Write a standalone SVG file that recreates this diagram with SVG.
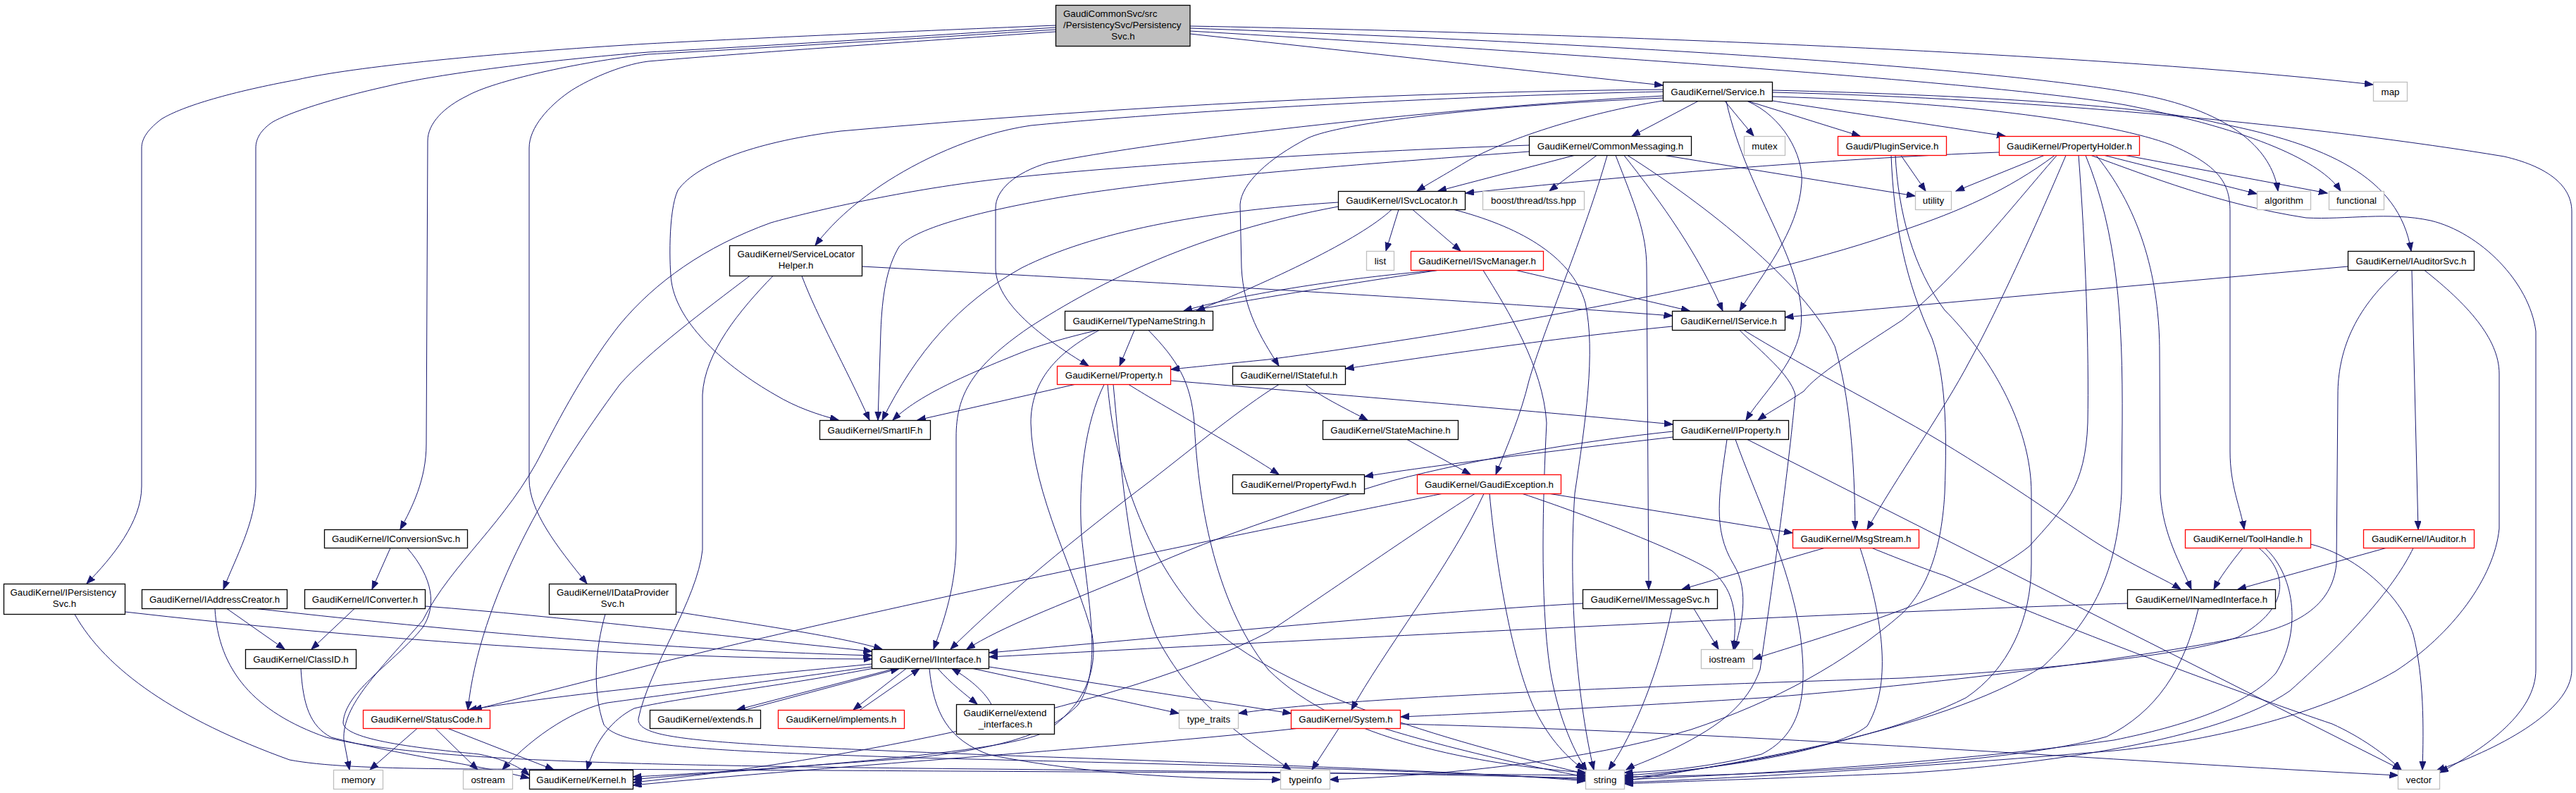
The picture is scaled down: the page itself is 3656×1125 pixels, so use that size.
<svg xmlns="http://www.w3.org/2000/svg" width="3656" height="1125" viewBox="0 0 3656 1125">
<style>
.e{fill:none;stroke:#191970;stroke-width:1;marker-end:url(#a)}
rect{fill:#fff;stroke:#000;stroke-width:1.3}
rect.g{stroke:#bfbfbf}
rect.r{stroke:#ff0000}
rect.root{fill:#bfbfbf}
text{font-family:"Liberation Sans",Arial,sans-serif;font-size:13.33px;fill:#000;text-anchor:middle}
text.l{text-anchor:start}
</style>
<defs>
<marker id="a" markerUnits="userSpaceOnUse" markerWidth="14" markerHeight="10" refX="12" refY="4.5" orient="auto"><path d="M0,0 L12,4.5 L0,9 z" fill="#191970" stroke="#191970" stroke-width="1"/></marker>
</defs>
<rect x="0" y="0" width="3656" height="1125" style="fill:#fff;stroke:none"/>
<g id="edges">
<path class="e" d="M1689,37 C2300,48 3000,78 3368,120"/>
<path class="e" d="M1689,48 L2360,121"/>
<path class="e" d="M1689,40 C2300,62 2900,100 3066,140 C3180,168 3226,220 3233,271"/>
<path class="e" d="M1689,44 C2300,80 2850,120 3017,149 C3200,185 3295,230 3322,271"/>
<path class="e" d="M1498,36 C1250,46 1050,55 920,62 C700,75 500,95 422,113 C330,130 260,150 229,169 C212,182 201,195 201,210 L201,690 C201,740 160,790 123,828"/>
<path class="e" d="M1498,39 C1250,55 1050,67 920,74 C780,85 620,105 551,122 C470,140 410,160 387,173 C372,183 363,195 363,210 L363,690 C363,740 335,790 317,836"/>
<path class="e" d="M1498,42 C1250,58 1050,70 920,77 C820,88 700,115 663,136 C630,152 607,175 607,200 L605,630 C605,680 585,720 568,751"/>
<path class="e" d="M1498,45 C1250,62 1050,76 920,87 C880,92 830,115 807,131 C780,150 751,180 751,210 L751,680 C751,725 790,775 833,828"/>
<path class="e" d="M2410,143.5 L2316,193"/>
<path class="e" d="M2360,143 C2250,160 2130,200 2080,230 C2050,248 2025,262 2011,271"/>
<path class="e" d="M2448,143.5 L2489,193"/>
<path class="e" d="M2481,143.5 L2640,193"/>
<path class="e" d="M2450,143.5 C2480,280 2570,380 2555,470 C2545,520 2500,560 2478,596"/>
<path class="e" d="M2480,143.5 C2530,165 2560,220 2557,260 C2552,330 2500,390 2469,441"/>
<path class="e" d="M2515.5,143 L2846,193"/>
<path class="e" d="M2515.5,131 C2900,140 3300,180 3554,222 C3610,235 3650,260 3650,300 L3650,950 C3650,1010 3540,1065 3458,1093"/>
<path class="e" d="M2515.5,128 C2800,135 3050,150 3150,175 C3300,205 3405,250 3422,356"/>
<path class="e" d="M2515.5,137 C2800,145 3000,175 3080,205 C3150,235 3165,260 3165,300 L3165,640 C3165,690 3180,720 3185,751"/>
<path class="e" d="M2360.5,130 C2100,135 1700,155 1463,178 C1380,190 1300,230 1252,262 C1210,290 1180,318 1157,348"/>
<path class="e" d="M2360.5,127 C2000,130 1600,150 1193,186 C1080,200 990,230 962,270 C948,300 950,380 953,400 C962,460 1030,520 1100,560 C1130,578 1160,588 1190,596"/>
<path class="e" d="M2360.5,136 C2100,150 1700,190 1487,231 C1440,245 1413,270 1413,295 L1413,380 C1413,430 1480,480 1545,519"/>
<path class="e" d="M2360.5,139 C2100,150 1900,175 1856,196 C1800,225 1762,260 1760,290 L1762,380 C1765,440 1790,480 1815,519"/>
<path class="e" d="M2234,220.5 L2041,271"/>
<path class="e" d="M2266,220.5 L2199,271"/>
<path class="e" d="M2281,220.5 C2250,330 2190,470 2170,540 C2158,590 2140,630 2123,673"/>
<path class="e" d="M2293,220.5 C2320,290 2337,330 2337,380 L2340,836"/>
<path class="e" d="M2305,220.5 C2360,290 2410,360 2445,441"/>
<path class="e" d="M2310,220.5 C2420,290 2560,400 2604,491 C2625,560 2632,650 2633,751"/>
<path class="e" d="M2363,220.5 L2718,278"/>
<path class="e" d="M2170.5,215 C1900,235 1650,255 1504,280 C1400,298 1300,322 1276,350 C1258,380 1252,420 1250,470 L1246,596"/>
<path class="e" d="M2170.5,206 C1900,215 1600,235 1446,251 C1300,265 1150,300 1094,316 C1000,350 930,400 880,460 C840,510 800,580 770,640 C720,740 640,800 600,880 C540,950 485,1000 488,1050 L496,1092"/>
<path class="e" d="M2698,220.5 L2733,271"/>
<path class="e" d="M2690,220.5 C2694,300 2715,380 2760,440 C2820,500 2883,600 2883,700 L2883,800 C2883,880 2850,950 2790,990 C2650,1060 2400,1095 2305.5,1104"/>
<path class="e" d="M2684,220.5 C2688,320 2705,400 2742,480 C2760,530 2764,600 2760,700 C2755,790 2730,840 2700,870 C2620,940 2520,995 2400,1035 C2250,1080 2050,1100 1887.5,1106"/>
<path class="e" d="M2837.5,216 C2600,225 2300,250 2080,274"/>
<path class="e" d="M2901,220.5 L2776,271"/>
<path class="e" d="M2916,220.5 C2850,270 2780,300 2700,327 C2500,400 2100,470 1800,510 C1740,516 1700,520 1662,524"/>
<path class="e" d="M2919,220.5 C2850,300 2780,390 2700,454 C2630,500 2580,530 2560,555 C2530,575 2510,585 2495,596"/>
<path class="e" d="M2932,220.5 C2890,320 2830,450 2795,513 C2760,580 2690,680 2650,751"/>
<path class="e" d="M2950,220.5 C2960,350 2965,500 2963,600 C2960,690 2930,720 2880,775 C2800,840 2600,900 2488,935"/>
<path class="e" d="M2960,220.5 C3005,330 3013,450 3012,600 L3011,700 C3005,800 2980,870 2900,945 C2750,1040 2450,1085 2305.5,1108"/>
<path class="e" d="M2975,220.5 C3040,300 3065,400 3065,500 L3066,700 C3070,760 3095,800 3110,836"/>
<path class="e" d="M2968,220.5 C3050,250 3150,290 3273,309 C3330,312 3390,300 3450,313 C3520,330 3590,400 3599,470 L3599,950 C3599,1010 3530,1060 3463,1096"/>
<path class="e" d="M2987,220.5 L3203,275"/>
<path class="e" d="M3017,220.5 L3303,274"/>
<path class="e" d="M3332.5,378 L2533.5,450"/>
<path class="e" d="M3404,383.5 C3340,440 3318,500 3318,560 L3316,800 C3310,860 3260,890 3176,905 C3000,940 2700,975 2500,990 C2300,1003 2100,1012 1988,1017"/>
<path class="e" d="M3423,383.5 L3432,751"/>
<path class="e" d="M3441,383.5 C3500,430 3547,480 3547,530 L3547,750 C3540,820 3480,900 3400,952 C3300,1010 3150,1050 3000,1065 C2700,1090 2450,1105 2305.5,1110"/>
<path class="e" d="M3183,777.5 C3165,800 3150,820 3142,836"/>
<path class="e" d="M3206,777.5 C3245,810 3255,860 3176,904 C3100,930 2900,950 2700,962 C2300,975 1900,990 1758,1012"/>
<path class="e" d="M3215,777.5 C3260,820 3265,900 3230,955 C3190,1000 3100,1030 3000,1050 C2750,1085 2450,1100 2305.5,1106"/>
<path class="e" d="M3279.5,772 C3350,790 3410,850 3425,900 C3440,960 3440,1030 3438,1092"/>
<path class="e" d="M3386,777.5 L3176,836"/>
<path class="e" d="M3425,777.5 C3400,830 3340,900 3250,980 C3150,1050 2900,1085 2700,1097 C2500,1105 2400,1108 2305.5,1112"/>
<path class="e" d="M3019.5,856 C2700,866 2100,895 1404,932"/>
<path class="e" d="M3120,863.5 C3100,950 3060,1010 2990,1045 C2850,1085 2500,1100 2305.5,1102"/>
<path class="e" d="M2374.5,620 C2200,640 2000,665 1937,676"/>
<path class="e" d="M2374.5,612 C2250,625 2100,650 1976,682 C1850,720 1700,770 1604,817 C1500,860 1420,890 1372,921"/>
<path class="e" d="M2451,623.5 C2440,700 2430,750 2460,800 C2485,840 2470,890 2462,921"/>
<path class="e" d="M2463,623.5 C2490,700 2540,800 2555,900 C2565,980 2560,1040 2500,1070 C2420,1090 2350,1095 2305.5,1096"/>
<path class="e" d="M2480,623.5 L3408,1092"/>
<path class="e" d="M1525,545.5 L1302,596"/>
<path class="e" d="M1602,545.5 C1640,570 1750,630 1815,673"/>
<path class="e" d="M1661.5,540 C1900,560 2200,585 2374,602"/>
<path class="e" d="M1567,545.5 C1540,600 1530,680 1535,760 C1545,860 1565,950 1530,1000 C1490,1040 1430,1060 1300,1075 C1100,1090 950,1100 898.5,1102"/>
<path class="e" d="M1580,545.5 C1590,650 1600,800 1640,900 C1690,1000 1770,1050 1832,1092"/>
<path class="e" d="M1572,545.5 C1580,650 1620,780 1700,870 C1800,980 2050,1050 2250.5,1098"/>
<path class="e" d="M1610,468.5 L1589,519"/>
<path class="e" d="M1560,468.5 C1500,500 1463,540 1463,600 C1465,700 1530,820 1550,900 C1560,960 1530,1010 1480,1040 C1400,1075 1000,1095 898.5,1106"/>
<path class="e" d="M1630,468.5 C1670,510 1690,540 1695,600 C1700,700 1720,850 1800,950 C1900,1050 2100,1085 2250.5,1096"/>
<path class="e" d="M1853,545.5 C1870,560 1910,580 1941,596"/>
<path class="e" d="M1815,545.5 C1760,580 1700,630 1633,682 C1530,760 1420,850 1349,921"/>
<path class="e" d="M1997,623.5 L2087,673"/>
<path class="e" d="M2200,700.5 L2544,756"/>
<path class="e" d="M2106,700.5 C2060,800 1960,930 1918,1007"/>
<path class="e" d="M2114,700.5 C2125,820 2150,950 2180,1010 C2200,1050 2225,1075 2248,1092"/>
<path class="e" d="M2161,700.5 C2250,730 2380,780 2430,810 C2465,840 2465,880 2460,921"/>
<path class="e" d="M2046,700.5 C1800,750 1300,850 920,944 C800,975 720,995 672,1007"/>
<path class="e" d="M2093,700.5 C2030,740 1900,830 1800,897 C1600,1000 1200,1080 898.5,1110"/>
<path class="e" d="M2589,777.5 L2387,836"/>
<path class="e" d="M2640,777.5 C2680,900 2680,980 2650,1030 C2600,1070 2400,1095 2305.5,1100"/>
<path class="e" d="M2657,777.5 C2700,795 2740,810 2761,817 C2950,900 3200,990 3310,1027 C3350,1045 3385,1070 3408,1092"/>
<path class="e" d="M2246.5,856 C2000,870 1700,900 1404,926"/>
<path class="e" d="M2404,863.5 L2439,921"/>
<path class="e" d="M2373,863.5 C2355,950 2320,1040 2283,1092"/>
<path class="e" d="M554,777.5 L528,836"/>
<path class="e" d="M578,777.5 C615,820 620,860 600,890 C560,940 490,980 487,1025 C487,1050 600,1062 680,1070 C720,1078 740,1090 751,1100"/>
<path class="e" d="M177.5,868 C500,905 900,935 1237.5,935"/>
<path class="e" d="M106,871.5 C150,950 250,1020 411,1078 C500,1095 700,1090 1000,1092 C1500,1095 2000,1097 2250.5,1100"/>
<path class="e" d="M322,863.5 L404,921"/>
<path class="e" d="M364,863.5 C600,890 900,920 1237.5,930"/>
<path class="e" d="M305,863.5 C310,950 360,1010 463,1046 C600,1080 900,1085 1300,1090 C1700,1094 2000,1097 2250.5,1104"/>
<path class="e" d="M503,863.5 L442,921"/>
<path class="e" d="M603.5,860 C800,875 1000,900 1237.5,924"/>
<path class="e" d="M959.5,868 C1100,890 1200,905 1252,921"/>
<path class="e" d="M859,871.5 C845,920 840,980 857,1028 C880,1060 1000,1065 1300,1075 C1700,1085 2000,1092 2250.5,1106"/>
<path class="e" d="M1223.5,378 C1500,393 2000,420 2373.5,448"/>
<path class="e" d="M1138,391.5 C1160,450 1200,520 1234,596"/>
<path class="e" d="M1064,391.5 C1000,440 920,500 880,545 C780,680 680,850 664,1007"/>
<path class="e" d="M1097,391.5 C1050,440 1000,500 997,560 L997,780 C990,850 920,950 906,1020 C905,1050 1000,1055 1405,1071 C1800,1085 2100,1095 2250.5,1108"/>
<path class="e" d="M1985,297.5 L1967,356"/>
<path class="e" d="M2005,297.5 L2073,356"/>
<path class="e" d="M2064,297.5 C2150,320 2230,360 2250,430 C2265,500 2250,600 2235,700 C2225,850 2240,1000 2262,1092"/>
<path class="e" d="M1975,297.5 C1930,340 1800,400 1698,441"/>
<path class="e" d="M1899.5,287 C1700,300 1550,330 1450,380 C1360,430 1300,500 1252,596"/>
<path class="e" d="M1899.5,293 C1700,330 1560,400 1460,465 C1380,520 1357,560 1357,620 L1357,770 C1357,830 1340,880 1325,921"/>
<path class="e" d="M2040,383.5 C1900,395 1750,420 1680,441"/>
<path class="e" d="M2040,383.5 C1800,420 1550,460 1450,500 C1350,540 1300,565 1267,596"/>
<path class="e" d="M2152,383.5 L2398,441"/>
<path class="e" d="M2105,383.5 C2140,440 2190,520 2195,600 C2190,700 2185,850 2200,950 C2210,1010 2230,1060 2252,1093"/>
<path class="e" d="M2373.5,463 C2200,480 2000,510 1909.5,523"/>
<path class="e" d="M2475,468.5 C2560,520 2620,550 2700,595 C2800,650 2900,720 2960,760 C3020,800 3070,820 3095,836"/>
<path class="e" d="M2469,468.5 C2500,500 2540,530 2548,560 C2540,650 2520,800 2498,950 C2480,1000 2440,1030 2380,1060 C2340,1080 2320,1085 2308,1092"/>
<path class="e" d="M1270,948.5 L1046,1007"/>
<path class="e" d="M1056,1007.5 L1276,948.5"/>
<path class="e" d="M1286,948.5 L1211,1007"/>
<path class="e" d="M1220,1007.5 L1305,948.5"/>
<path class="e" d="M1331,948.5 C1350,970 1370,985 1387,999"/>
<path class="e" d="M1407,999.5 C1400,985 1380,965 1351,948.5"/>
<path class="e" d="M1381,948.5 L1673,1012"/>
<path class="e" d="M1403.5,946 L1832.5,1012"/>
<path class="e" d="M1237.5,942 C1000,965 800,985 665,1007"/>
<path class="e" d="M1237.5,946 C1100,965 950,985 862,997 C820,1005 760,1040 713,1092"/>
<path class="e" d="M1240,948 C1100,975 960,990 900,1005 C870,1020 845,1050 833,1092"/>
<path class="e" d="M1319,948.5 C1325,1010 1345,1050 1405,1071 C1550,1100 1700,1105 1817.5,1106"/>
<path class="e" d="M1900,1033.5 L1862,1092"/>
<path class="e" d="M1965,1033.5 C2050,1060 2180,1090 2250.5,1102"/>
<path class="e" d="M1987.5,1027 C2500,1040 3000,1080 3403.5,1100"/>
<path class="e" d="M1840,1033.5 C1600,1060 1200,1085 898.5,1114"/>
<path class="e" d="M592,1033.5 L525,1092"/>
<path class="e" d="M618,1033.5 L678,1092"/>
<path class="e" d="M636,1033.5 L786,1092"/>
<path class="e" d="M427,948.5 C430,1000 440,1030 470,1046 C560,1070 680,1085 751,1104"/>
</g>
<g id="n_root"><rect class="root" x="1498.5" y="7.5" width="190.5" height="58"/><text class="l" x="1509" y="23.5">GaudiCommonSvc/src</text><text class="l" x="1509" y="40">/PersistencySvc/Persistency</text><text x="1594" y="56">Svc.h</text></g>
<g id="n_map"><rect class="g" x="3368.5" y="116.5" width="48" height="27"/><text x="3392.5" y="134.7">map</text></g>
<g id="n_service"><rect x="2360.5" y="116.5" width="155" height="27"/><text x="2438" y="134.7">GaudiKernel/Service.h</text></g>
<g id="n_mutex"><rect class="g" x="2475.5" y="193.5" width="58" height="27"/><text x="2504.5" y="211.7">mutex</text></g>
<g id="n_pluginservice"><rect class="r" x="2608.5" y="193.5" width="154" height="27"/><text x="2685.5" y="211.7">Gaudi/PluginService.h</text></g>
<g id="n_propertyholder"><rect class="r" x="2837.5" y="193.5" width="199" height="27"/><text x="2937" y="211.7">GaudiKernel/PropertyHolder.h</text></g>
<g id="n_commonmessaging"><rect x="2170.5" y="193.5" width="230" height="27"/><text x="2285.5" y="211.7">GaudiKernel/CommonMessaging.h</text></g>
<g id="n_utility"><rect class="g" x="2718.5" y="271.5" width="51" height="26"/><text x="2744" y="289.2">utility</text></g>
<g id="n_algorithm"><rect class="g" x="3203.5" y="271.5" width="76" height="26"/><text x="3241.5" y="289.2">algorithm</text></g>
<g id="n_functional"><rect class="g" x="3305.5" y="271.5" width="78" height="26"/><text x="3344.5" y="289.2">functional</text></g>
<g id="n_isvclocator"><rect x="1899.5" y="271.5" width="180" height="26"/><text x="1989.5" y="289.2">GaudiKernel/ISvcLocator.h</text></g>
<g id="n_boost"><rect class="g" x="2104.5" y="271.5" width="144" height="26"/><text x="2176.5" y="289.2">boost/thread/tss.hpp</text></g>
<g id="n_list"><rect class="g" x="1939.5" y="356.5" width="39" height="27"/><text x="1959" y="374.7">list</text></g>
<g id="n_isvcmanager"><rect class="r" x="2002.5" y="356.5" width="188" height="27"/><text x="2096.5" y="374.7">GaudiKernel/ISvcManager.h</text></g>
<g id="n_iauditorsvc"><rect x="3332.5" y="356.5" width="179" height="27"/><text x="3422" y="374.7">GaudiKernel/IAuditorSvc.h</text></g>
<g id="n_servicelocatorhelper"><rect x="1035.5" y="348.5" width="188" height="43"/><text class="l" x="1046.5" y="365">GaudiKernel/ServiceLocator</text><text x="1129.5" y="381">Helper.h</text></g>
<g id="n_typenamestring"><rect x="1511.5" y="441.5" width="210" height="27"/><text x="1616.5" y="459.7">GaudiKernel/TypeNameString.h</text></g>
<g id="n_iservice"><rect x="2373.5" y="441.5" width="160" height="27"/><text x="2453.5" y="459.7">GaudiKernel/IService.h</text></g>
<g id="n_property"><rect class="r" x="1500.5" y="519.5" width="161" height="26"/><text x="1581" y="537.2">GaudiKernel/Property.h</text></g>
<g id="n_istateful"><rect x="1749.5" y="519.5" width="160" height="26"/><text x="1829.5" y="537.2">GaudiKernel/IStateful.h</text></g>
<g id="n_smartif"><rect x="1163.5" y="596.5" width="157" height="27"/><text x="1242" y="614.7">GaudiKernel/SmartIF.h</text></g>
<g id="n_statemachine"><rect x="1877.5" y="596.5" width="192" height="27"/><text x="1973.5" y="614.7">GaudiKernel/StateMachine.h</text></g>
<g id="n_iproperty"><rect x="2374.5" y="596.5" width="164" height="27"/><text x="2456.5" y="614.7">GaudiKernel/IProperty.h</text></g>
<g id="n_propertyfwd"><rect x="1749.5" y="673.5" width="187" height="27"/><text x="1843" y="691.7">GaudiKernel/PropertyFwd.h</text></g>
<g id="n_gaudiexception"><rect class="r" x="2011.5" y="673.5" width="204" height="27"/><text x="2113.5" y="691.7">GaudiKernel/GaudiException.h</text></g>
<g id="n_iconversionsvc"><rect x="460.5" y="751.5" width="203" height="26"/><text x="562" y="769.2">GaudiKernel/IConversionSvc.h</text></g>
<g id="n_toolhandle"><rect class="r" x="3101.5" y="751.5" width="178" height="26"/><text x="3190.5" y="769.2">GaudiKernel/ToolHandle.h</text></g>
<g id="n_iauditor"><rect class="r" x="3354.5" y="751.5" width="157" height="26"/><text x="3433" y="769.2">GaudiKernel/IAuditor.h</text></g>
<g id="n_msgstream"><rect class="r" x="2544.5" y="751.5" width="179" height="26"/><text x="2634" y="769.2">GaudiKernel/MsgStream.h</text></g>
<g id="n_ipersistencysvc"><rect x="5.5" y="828.5" width="172" height="43"/><text class="l" x="14.5" y="845">GaudiKernel/IPersistency</text><text x="91.5" y="861">Svc.h</text></g>
<g id="n_iaddresscreator"><rect x="201.5" y="836.5" width="206" height="27"/><text x="304.5" y="854.7">GaudiKernel/IAddressCreator.h</text></g>
<g id="n_iconverter"><rect x="432.5" y="836.5" width="171" height="27"/><text x="518" y="854.7">GaudiKernel/IConverter.h</text></g>
<g id="n_idataprovidersvc"><rect x="779.5" y="828.5" width="180" height="43"/><text class="l" x="790" y="845">GaudiKernel/IDataProvider</text><text x="869.5" y="861">Svc.h</text></g>
<g id="n_imessagesvc"><rect x="2246.5" y="836.5" width="191" height="27"/><text x="2342" y="854.7">GaudiKernel/IMessageSvc.h</text></g>
<g id="n_inamedinterface"><rect x="3019.5" y="836.5" width="210" height="27"/><text x="3124.5" y="854.7">GaudiKernel/INamedInterface.h</text></g>
<g id="n_classid"><rect x="348.5" y="921.5" width="157" height="27"/><text x="427" y="939.7">GaudiKernel/ClassID.h</text></g>
<g id="n_iinterface"><rect x="1237.5" y="921.5" width="166" height="27"/><text x="1320.5" y="939.7">GaudiKernel/IInterface.h</text></g>
<g id="n_iostream"><rect class="g" x="2414.5" y="921.5" width="73" height="27"/><text x="2451" y="939.7">iostream</text></g>
<g id="n_statuscode"><rect class="r" x="515.5" y="1007.5" width="180" height="26"/><text x="605.5" y="1025.2">GaudiKernel/StatusCode.h</text></g>
<g id="n_extends"><rect x="922.5" y="1007.5" width="157" height="26"/><text x="1001" y="1025.2">GaudiKernel/extends.h</text></g>
<g id="n_implements"><rect class="r" x="1104.5" y="1007.5" width="179" height="26"/><text x="1194" y="1025.2">GaudiKernel/implements.h</text></g>
<g id="n_extend_interfaces"><rect x="1357.5" y="999.5" width="139" height="42"/><text class="l" x="1367.5" y="1016">GaudiKernel/extend</text><text x="1427" y="1032">_interfaces.h</text></g>
<g id="n_type_traits"><rect class="g" x="1673.5" y="1007.5" width="84" height="26"/><text x="1715.5" y="1025.2">type_traits</text></g>
<g id="n_system"><rect class="r" x="1832.5" y="1007.5" width="155" height="26"/><text x="1910" y="1025.2">GaudiKernel/System.h</text></g>
<g id="n_memory"><rect class="g" x="473.5" y="1092.5" width="70" height="27"/><text x="508.5" y="1110.7">memory</text></g>
<g id="n_ostream"><rect class="g" x="657.5" y="1092.5" width="70" height="27"/><text x="692.5" y="1110.7">ostream</text></g>
<g id="n_kernel"><rect x="751.5" y="1092.5" width="147" height="27"/><text x="825" y="1110.7">GaudiKernel/Kernel.h</text></g>
<g id="n_typeinfo"><rect class="g" x="1817.5" y="1092.5" width="70" height="27"/><text x="1852.5" y="1110.7">typeinfo</text></g>
<g id="n_string"><rect class="g" x="2250.5" y="1092.5" width="55" height="27"/><text x="2278" y="1110.7">string</text></g>
<g id="n_vector"><rect class="g" x="3403.5" y="1092.5" width="59" height="27"/><text x="3433" y="1110.7">vector</text></g>
</svg>
